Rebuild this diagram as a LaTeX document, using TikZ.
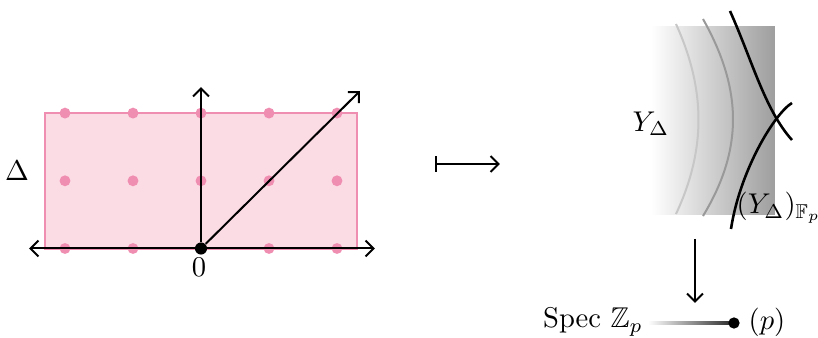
\documentclass[tikz,border=0pt]{standalone}
\usepackage{amsmath,amssymb}
\usepackage{xcolor}
\usepackage{tikz}
\usetikzlibrary{arrows.meta,calc,positioning}
\definecolor{rosafondo}{RGB}{252,220,228}
\definecolor{rosaborde}{RGB}{240,142,178}
\tikzset{
  caja/.style={fill=rosafondo,draw=rosaborde,line width=0.75pt},
  reticulo/.style={circle,fill=rosaborde,inner sep=1.35pt},
  pt/.style={circle,fill=black,inner sep=1.5pt},
  ejes/.style={{Straight Barb[length=2.8pt,width=5.5pt]}-{Straight Barb[length=2.8pt,width=5.5pt]},line width=0.7pt},
  flecha/.style={-{Straight Barb[length=2.8pt,width=5.5pt]},line width=0.7pt},
  fibra/.style={line width=0.7pt},
  etiq/.style={inner sep=0pt}
}
\begin{document}
\begin{tikzpicture}[x=0.35pt,y=-0.35pt]
\useasboundingbox (0,0) rectangle (818,338);
% panel izquierdo: el politopo
\draw[caja] (45,113) rectangle (357,248.5);
\foreach \i in {-2,...,2}
  \foreach \j in {0,1,2}
    \node[reticulo] at ({201+68*\i},{248.5-67.7*\j}) {};
\coordinate (izq) at (29,248.5);
\coordinate (der) at (375,248.5);
\coordinate (arr) at (201,87);
\coordinate (diag) at (360,91);
\node[pt] (O) at (201,248.5) {};
\draw[ejes] (izq)--(der);
\draw[flecha] (O)--(arr);
\draw[flecha] (O)--(diag);
\node[etiq] (cero) at (199,267) {$0$};
\node[etiq] (D) at (17,171) {$\Delta$};
% la flecha del medio
\coordinate (m1) at (435,164);
\coordinate (m2) at (500,164);
\draw[{Bar[width=5.5pt]}-{Straight Barb[length=2.8pt,width=5.5pt]},line width=0.7pt] (m1)--(m2);
% panel derecho: la variedad sobre Spec Z_p
\shade[left color=white,right color=black!38] (651,27) rectangle (775,215);
\draw[fibra,black!22] (676,24) .. controls (706,90) and (706,150) .. (676,214);
\draw[fibra,black!40] (703,19) .. controls (743,90) and (743,150) .. (703,216);
\draw[black,line width=0.9pt] (730,11) .. controls (752,60) and (765,110) .. (792,140);
\draw[black,line width=0.9pt] (792,103) .. controls (775,113) and (740,170) .. (731,229);
\node[etiq] (Y) at (651,124) {$Y_\Delta$};
\node[etiq] (YF) at (779,208) {$(Y_\Delta)_{\mathbb{F}_p}$};
\coordinate (b1) at (695,239);
\coordinate (b2) at (695,303);
\draw[flecha] (b1)--(b2);
\node[etiq] (spec) at (593,322) {Spec $\mathbb{Z}_p$};
\node[etiq] (pl) at (767,322) {$(p)$};
\shade[left color=white,right color=black!85] (648,321.5) rectangle (734,324.5);
\node[pt,inner sep=1.4pt] (p) at (734,323) {};
\end{tikzpicture}
\end{document}
